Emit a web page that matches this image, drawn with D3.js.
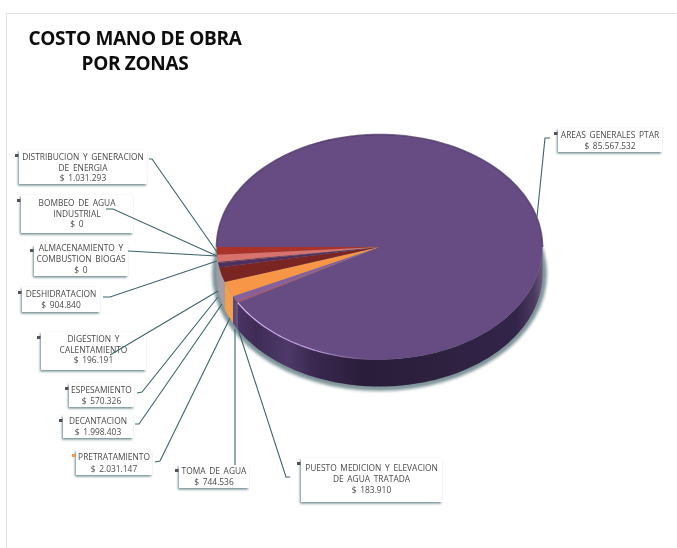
<!DOCTYPE html>
<html>
<head>
<meta charset="utf-8">
<script src="https://cdn.jsdelivr.net/npm/d3@7"></script>
<style>
  html, body { margin: 0; padding: 0; background: #fff; }
  svg { display: block; }
</style>
</head>
<body>
<script>
// clockwise from the left edge of the pie
var categories = [
	"AREAS GENERALES PTAR",
	"PUESTO MEDICION Y ELEVACION DE AGUA TRATADA",
	"TOMA DE AGUA",
	"PRETRATAMIENTO",
	"DECANTACION",
	"ESPESAMIENTO",
	"DIGESTION Y CALENTAMIENTO",
	"DESHIDRATACION",
	"ALMACENAMIENTO Y COMBUSTION BIOGAS",
	"BOMBEO DE AGUA INDUSTRIAL",
	"DISTRIBUCION Y GENERACION DE ENERGIA"
];
var values = [85567532, 183910, 744536, 2031147, 1998403, 570326, 196191, 904840, 0, 0, 1031293];

// line breaks of each label
var labelLines = [
	["AREAS GENERALES PTAR"],
	["PUESTO MEDICION Y ELEVACION", "DE AGUA TRATADA"],
	["TOMA DE AGUA"],
	["PRETRATAMIENTO"],
	["DECANTACION"],
	["ESPESAMIENTO"],
	["DIGESTION Y", "CALENTAMIENTO"],
	["DESHIDRATACION"],
	["ALMACENAMIENTO Y", "COMBUSTION BIOGAS"],
	["BOMBEO DE AGUA", "INDUSTRIAL"],
	["DISTRIBUCION Y GENERACION", "DE ENERGIA"]
];

var topColors = ["#674c84", "#b0525f", "#86609c", "#f79646", "#7b2522", "#4f2f5e", "#7a3f55", "#d9726c", "#c0504d", "#c0504d", "#ab3229"];
var wallColors = ["url(#wallGrad)", "#5f4679", "#5f4679", "#f0a04e", "#a79ca6", "#a79ca6", "#a79ca6", "#a79ca6", "#a79ca6", "#a79ca6", "#a79ca6"];

// label layout: box x, y, w, h, first baseline, line step
var boxes = [
	[558, 128, 104, 24, 138, 11],
	[301, 458, 141, 44, 471, 11],
	[179, 465, 70, 23, 474, 11],
	[76, 450, 76, 25, 460, 12],
	[63, 415, 70, 23, 424, 11],
	[69, 383, 65, 24, 393, 11],
	[41, 332, 105, 38, 342, 10.5],
	[22, 287, 78, 25, 297, 11],
	[34, 245, 94, 31, 251, 11],
	[21, 195, 112, 38, 206, 10.5],
	[19, 150, 128, 34, 160, 10.5]
];
// leader lines: polyline from the box to the rim of the pie
var leaders = [
	[[550, 138], [545, 138], [537, 217]],
	[[290, 477], [286, 477], [238, 329]],
	[[235, 465], [235, 329]],
	[[155, 462], [160, 461], [230, 318]],
	[[135, 424], [139, 424], [222, 304]],
	[[137, 393], [142, 392], [218, 297]],
	[[110, 355], [218, 291]],
	[[103, 297], [110, 297], [217, 261]],
	[[128, 251], [217, 256]],
	[[106, 209], [113, 209], [217, 256]],
	[[149, 159], [152, 159], [217, 252]]
];

var outWidth = 677, outHeight = 548;
var cx = 379.5, cy = 247, rx = 163, ry = 112.5, depth = 27;
var ky = ry / rx;

var svg = d3.select("body").append("svg")
	.attr("width", outWidth)
	.attr("height", outHeight);

var defs = svg.append("defs");

var wallGrad = defs.append("linearGradient")
	.attr("id", "wallGrad")
	.attr("gradientUnits", "userSpaceOnUse")
	.attr("x1", cx - rx).attr("x2", cx + rx).attr("y1", 0).attr("y2", 0);
[[0, "#654a85"], [0.07, "#4a3363"], [0.12, "#3f2c56"], [0.22, "#4e3969"], [0.3, "#3a2850"],
	[0.45, "#2a1d3b"], [0.7, "#2e2140"], [0.92, "#33244a"], [0.975, "#4c3b5e"], [1, "#6d5b7c"]]
	.forEach(function(s) {
		wallGrad.append("stop").attr("offset", s[0]).attr("stop-color", s[1]);
	});

var hiGrad = defs.append("linearGradient")
	.attr("id", "hiGrad")
	.attr("gradientUnits", "userSpaceOnUse")
	.attr("x1", cx - rx + 15).attr("x2", cx - 10).attr("y1", 0).attr("y2", 0);
hiGrad.append("stop").attr("offset", 0).attr("stop-color", "#d9bdf0");
hiGrad.append("stop").attr("offset", 0.6).attr("stop-color", "#b795d6");
hiGrad.append("stop").attr("offset", 1).attr("stop-color", "#674c84");

defs.append("filter").attr("id", "blur")
	.attr("x", "-5%").attr("y", "-5%").attr("width", "110%").attr("height", "110%")
	.append("feGaussianBlur").attr("stdDeviation", 1.4);

// the reference is a soft scan, text gets a very light blur
defs.append("filter").attr("id", "soft")
	.attr("x", "-5%").attr("y", "-20%").attr("width", "110%").attr("height", "140%")
	.append("feGaussianBlur").attr("stdDeviation", 0.3);

var boxShadow = defs.append("filter").attr("id", "boxShadow")
	.attr("x", "-10%").attr("y", "-15%").attr("width", "120%").attr("height", "135%");
boxShadow.append("feDropShadow")
	.attr("dx", -1).attr("dy", 1.5).attr("stdDeviation", 0.8)
	.attr("flood-color", "#55767b").attr("flood-opacity", 0.85);

// frame of the original slide
svg.append("path")
	.attr("d", "M6.5," + outHeight + "V13.5H" + outWidth)
	.attr("fill", "none")
	.attr("stroke", "#e3e3e3");

// title
svg.append("text")
	.attr("x", 135).attr("text-anchor", "middle")
	.attr("filter", "url(#soft)")
	.style("font-family", "'Open Sans', sans-serif")
	.style("font-weight", 700)
	.style("font-size", "19px")
	.style("letter-spacing", "-0.3px")
	.style("fill", "#111")
	.selectAll("tspan")
	.data(["COSTO MANO DE OBRA", "POR ZONAS"])
	.enter().append("tspan")
	.attr("x", 135)
	.attr("y", function(d, i) { return 45 + i * 25; })
	.text(function(d) { return d; });

// pie
var pie = d3.pie().sort(null)
	.startAngle(Math.PI * 1.5)
	.endAngle(Math.PI * 3.5);
var arcs = pie(values);
var arc = d3.arc().innerRadius(0).outerRadius(rx);

function rimPoint(a, dy) {
	return [cx + rx * Math.sin(a), cy + dy - ry * Math.cos(a)];
}
function rimLine(a0, a1, dy) {
	var n = Math.max(2, Math.ceil(Math.abs(a1 - a0) / 0.02));
	return d3.range(n + 1).map(function(i) {
		return rimPoint(a0 + (a1 - a0) * i / n, dy);
	});
}
var line = d3.line();

svg.append("ellipse")
	.attr("cx", cx).attr("cy", cy + depth)
	.attr("rx", rx + 4.5).attr("ry", ry + 4.5)
	.attr("fill", "#7f959a")
	.attr("filter", "url(#blur)");

// outer wall: only the front half of the rim shows
var wallPaths = [];
arcs.forEach(function(d, i) {
	[0, 2 * Math.PI].forEach(function(turn) {
		var a0 = Math.max(d.startAngle, Math.PI / 2 + turn);
		var a1 = Math.min(d.endAngle, Math.PI * 1.5 + turn);
		if (a1 > a0) wallPaths.push({a0: a0, a1: a1, i: i});
	});
});
svg.append("g").selectAll("path")
	.data(wallPaths)
	.enter().append("path")
	.attr("d", function(d) {
		return line(rimLine(d.a0, d.a1, 0).concat(rimLine(d.a1, d.a0, depth))) + "Z";
	})
	.attr("fill", function(d) { return wallColors[d.i]; });

// top face
svg.append("g")
	.attr("transform", "translate(" + cx + "," + cy + ") scale(1," + ky + ")")
	.selectAll("path")
	.data(arcs)
	.enter().append("path")
	.attr("d", arc)
	.attr("fill", function(d, i) { return topColors[i]; });

// bevel on the rim
svg.append("path")
	.attr("d", line(rimLine(Math.PI * 1.5, Math.PI * 2.5, 0)))
	.attr("fill", "none")
	.attr("stroke", "#4b3566")
	.attr("stroke-width", 1.6)
	.attr("stroke-opacity", 0.75);
svg.append("path")
	.attr("d", line(rimLine(arcs[0].endAngle - 2 * Math.PI, Math.PI, 0)))
	.attr("fill", "none")
	.attr("stroke", "url(#hiGrad)")
	.attr("stroke-width", 1.2);

// labels
var fmt = d3.formatLocale({decimal: ",", thousands: ".", grouping: [3], currency: ["$ ", ""]}).format("$,");

var labels = svg.append("g").selectAll("g")
	.data(categories)
	.enter().append("g");

labels.append("rect")
	.attr("x", function(d, i) { return boxes[i][0]; })
	.attr("y", function(d, i) { return boxes[i][1]; })
	.attr("width", function(d, i) { return boxes[i][2]; })
	.attr("height", function(d, i) { return boxes[i][3]; })
	.attr("fill", "#fff")
	.attr("filter", "url(#boxShadow)");

labels.append("rect")
	.attr("x", function(d, i) { return boxes[i][0] - 4; })
	.attr("y", function(d, i) { return boxes[i][1] + 4; })
	.attr("width", 3.5).attr("height", 3)
	.attr("fill", function(d, i) { return i === 3 ? topColors[i] : "#55505c"; });

labels.append("text")
	.attr("text-anchor", "middle")
	.attr("filter", "url(#soft)")
	.style("font-family", "'Open Sans', sans-serif")
	.style("font-size", "8.4px")
	.style("word-spacing", "1.5px")
	.style("fill", "#4a4a4a")
	.each(function(d, i) {
		var b = boxes[i];
		var rows = labelLines[i].concat([fmt(values[i])]);
		d3.select(this).selectAll("tspan")
			.data(rows)
			.enter().append("tspan")
			.attr("x", b[0] + b[2] / 2)
			.attr("y", function(r, j) { return b[4] + j * b[5]; })
			.text(function(r) { return r; });
	});

svg.append("g").selectAll("path")
	.data(leaders)
	.enter().append("path")
	.attr("d", line)
	.attr("fill", "none")
	.attr("stroke", "#3d6469")
	.attr("stroke-width", 1.1);
</script>
</body>
</html>
